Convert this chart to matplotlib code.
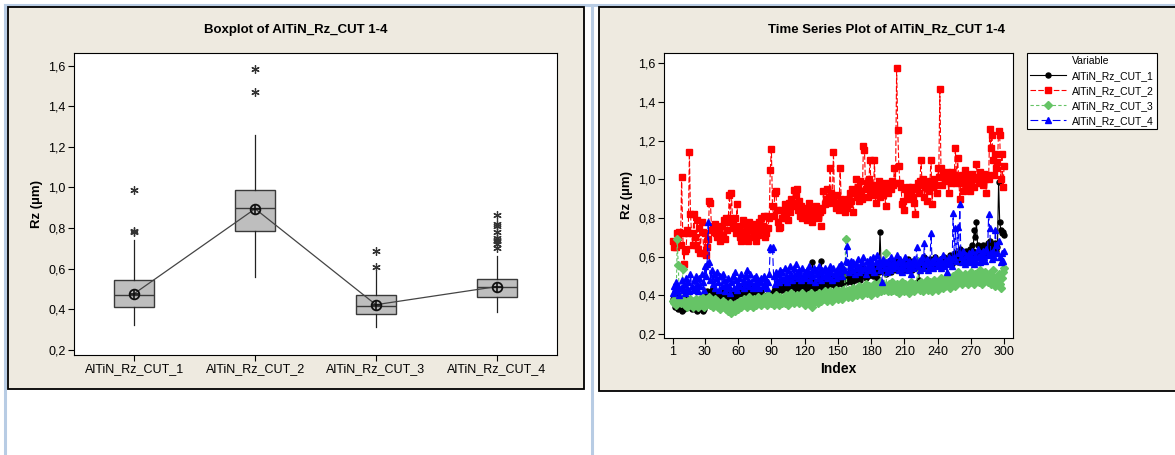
import matplotlib
matplotlib.use('Agg')
import matplotlib.pyplot as plt
from matplotlib.patches import Rectangle
from matplotlib.lines import Line2D
from matplotlib.ticker import FuncFormatter

plt.rcParams['font.family'] = ['Liberation Sans', 'DejaVu Sans']

# ---- boxplot data ----
box_labels = ['AlTiN_Rz_CUT_1', 'AlTiN_Rz_CUT_2', 'AlTiN_Rz_CUT_3', 'AlTiN_Rz_CUT_4']
box_q1 = [0.414, 0.787, 0.378, 0.462]
box_med = [0.471, 0.899, 0.419, 0.511]
box_q3 = [0.546, 0.986, 0.470, 0.550]
box_wlo = [0.323, 0.558, 0.312, 0.386]
box_whi = [0.740, 1.258, 0.583, 0.661]
box_mean = [0.478, 0.895, 0.423, 0.512]
box_fliers = [
    [0.986, 0.784, 0.779],
    [1.582, 1.472],
    [0.689, 0.608],
    [0.863, 0.820, 0.812, 0.780, 0.752, 0.743, 0.735, 0.722, 0.700],
]

# ---- time series data (index 1..300) ----
cut_1 = [
    0.38, 0.36, 0.34, 0.40, 0.35, 0.33, 0.37, 0.34, 0.32, 0.36, 0.33, 0.39, 0.35, 0.38, 0.34, 0.36, 0.37, 0.33, 0.35, 0.34,
    0.33, 0.36, 0.32, 0.35, 0.33, 0.37, 0.34, 0.32, 0.33, 0.36, 0.40, 0.42, 0.39, 0.41, 0.40, 0.43, 0.39, 0.42, 0.38, 0.41,
    0.39, 0.38, 0.41, 0.37, 0.40, 0.39, 0.42, 0.38, 0.40, 0.37, 0.39, 0.41, 0.43, 0.38, 0.40, 0.42, 0.39, 0.43, 0.41, 0.40,
    0.42, 0.44, 0.41, 0.43, 0.40, 0.42, 0.44, 0.41, 0.43, 0.45, 0.42, 0.40, 0.43, 0.41, 0.44, 0.42, 0.40, 0.43, 0.41, 0.39,
    0.42, 0.40, 0.38, 0.39, 0.37, 0.39, 0.38, 0.41, 0.38, 0.40, 0.36, 0.42, 0.44, 0.41, 0.43, 0.45, 0.42, 0.44, 0.46, 0.43,
    0.45, 0.47, 0.44, 0.46, 0.43, 0.47, 0.45, 0.48, 0.44, 0.46, 0.49, 0.45, 0.43, 0.47, 0.44, 0.46, 0.45, 0.48, 0.44, 0.46,
    0.47, 0.43, 0.46, 0.44, 0.48, 0.45, 0.57, 0.46, 0.43, 0.47, 0.44, 0.46, 0.42, 0.45, 0.58, 0.47, 0.44, 0.48, 0.45, 0.47,
    0.49, 0.45, 0.48, 0.46, 0.50, 0.47, 0.45, 0.49, 0.46, 0.48, 0.50, 0.47, 0.49, 0.46, 0.48, 0.51, 0.49, 0.47, 0.50, 0.48,
    0.52, 0.49, 0.47, 0.51, 0.48, 0.50, 0.53, 0.49, 0.51, 0.48, 0.52, 0.50, 0.54, 0.51, 0.49, 0.53, 0.50, 0.52, 0.55, 0.51,
    0.53, 0.50, 0.54, 0.52, 0.49, 0.55, 0.52, 0.726, 0.56, 0.53, 0.57, 0.54, 0.51, 0.56, 0.53, 0.55, 0.58, 0.52, 0.56, 0.54,
    0.57, 0.53, 0.55, 0.59, 0.54, 0.56, 0.52, 0.57, 0.55, 0.53, 0.58, 0.56, 0.59, 0.54, 0.57, 0.55, 0.53, 0.58, 0.56, 0.54,
    0.57, 0.55, 0.48, 0.56, 0.58, 0.54, 0.57, 0.60, 0.55, 0.58, 0.56, 0.54, 0.59, 0.57, 0.55, 0.58, 0.56, 0.60, 0.57, 0.55,
    0.58, 0.56, 0.59, 0.57, 0.55, 0.60, 0.58, 0.56, 0.59, 0.57, 0.61, 0.58, 0.56, 0.60, 0.58, 0.62, 0.59, 0.57, 0.61, 0.64,
    0.60, 0.62, 0.58, 0.61, 0.59, 0.63, 0.60, 0.62, 0.64, 0.61, 0.66, 0.63, 0.74, 0.70, 0.78, 0.66, 0.62, 0.65, 0.61, 0.64,
    0.66, 0.62, 0.65, 0.63, 0.67, 0.64, 0.68, 0.65, 0.62, 0.66, 0.64, 0.67, 0.63, 0.65, 0.988, 0.78, 0.74, 0.72, 0.73, 0.71,
]
cut_2 = [
    0.68, 0.65, 0.67, 0.65, 0.72, 0.70, 0.73, 0.66, 1.01, 0.72, 0.56, 0.63, 0.64, 0.74, 0.72, 1.14, 0.82, 0.72, 0.66, 0.82,
    0.70, 0.66, 0.79, 0.64, 0.75, 0.62, 0.78, 0.73, 0.62, 0.72, 0.61, 0.65, 0.69, 0.89, 0.88, 0.74, 0.76, 0.73, 0.77, 0.72,
    0.70, 0.74, 0.73, 0.68, 0.76, 0.71, 0.79, 0.69, 0.80, 0.74, 0.78, 0.92, 0.80, 0.93, 0.77, 0.75, 0.80, 0.72, 0.87, 0.74,
    0.76, 0.70, 0.68, 0.79, 0.73, 0.77, 0.71, 0.75, 0.68, 0.78, 0.74, 0.76, 0.70, 0.72, 0.77, 0.68, 0.75, 0.71, 0.78, 0.74,
    0.80, 0.76, 0.81, 0.70, 0.72, 0.81, 0.75, 0.80, 1.05, 1.155, 0.86, 0.81, 0.93, 0.94, 0.84, 0.78, 0.75, 0.755, 0.84, 0.80,
    0.82, 0.87, 0.80, 0.85, 0.79, 0.88, 0.83, 0.90, 0.86, 0.945, 0.88, 0.92, 0.95, 0.84, 0.89, 0.81, 0.86, 0.80, 0.83, 0.82,
    0.85, 0.79, 0.84, 0.88, 0.80, 0.83, 0.78, 0.84, 0.81, 0.86, 0.82, 0.80, 0.85, 0.83, 0.76, 0.84, 0.94, 0.87, 0.90, 0.95,
    0.88, 0.91, 1.06, 0.93, 0.90, 1.14, 0.88, 0.85, 0.92, 0.87, 0.84, 1.06, 0.90, 0.86, 0.88, 0.83, 0.86, 0.85, 0.90, 0.87,
    0.93, 0.89, 0.95, 0.83, 0.93, 1.00, 0.91, 0.96, 0.89, 0.99, 0.93, 0.90, 1.17, 1.15, 0.95, 0.98, 0.91, 1.00, 1.10, 0.94,
    0.97, 0.92, 1.10, 0.88, 0.96, 0.93, 0.99, 0.91, 0.97, 0.95, 0.92, 0.98, 0.86, 0.96, 0.93, 0.97, 0.98, 0.95, 0.99, 0.97,
    1.06, 0.98, 1.578, 1.255, 1.07, 0.98, 0.96, 0.87, 0.89, 0.84, 0.95, 0.92, 0.96, 0.90, 0.94, 0.93, 0.96, 0.91, 0.88, 0.82,
    0.95, 0.98, 0.93, 0.99, 1.10, 0.97, 1.00, 0.91, 0.96, 0.89, 0.97, 0.94, 0.99, 1.10, 0.87, 0.96, 1.00, 0.97, 0.93, 1.06,
    1.01, 1.467, 1.06, 0.97, 1.03, 1.01, 0.99, 1.04, 1.02, 0.93, 1.01, 0.98, 1.04, 0.99, 1.02, 1.16, 0.98, 1.11, 1.01, 0.90,
    0.98, 1.02, 0.94, 1.00, 1.05, 0.95, 0.97, 1.02, 0.94, 0.99, 1.03, 1.00, 0.96, 1.01, 1.08, 1.00, 0.98, 1.04, 0.99, 1.01,
    0.97, 1.03, 1.00, 0.93, 1.02, 1.00, 1.26, 1.16, 1.23, 1.10, 1.02, 1.13, 1.06, 1.09, 1.25, 1.23, 1.00, 1.13, 0.96, 1.07,
]
cut_3 = [
    0.37, 0.36, 0.38, 0.35, 0.69, 0.555, 0.37, 0.36, 0.38, 0.534, 0.37, 0.35, 0.36, 0.34, 0.37, 0.35, 0.38, 0.36, 0.34, 0.37,
    0.35, 0.38, 0.36, 0.34, 0.37, 0.35, 0.39, 0.36, 0.34, 0.37, 0.35, 0.38, 0.36, 0.39, 0.35, 0.37, 0.34, 0.36, 0.38, 0.35,
    0.37, 0.34, 0.36, 0.33, 0.35, 0.37, 0.34, 0.36, 0.33, 0.35, 0.32, 0.34, 0.36, 0.31, 0.33, 0.35, 0.32, 0.34, 0.36, 0.33,
    0.35, 0.37, 0.34, 0.36, 0.38, 0.35, 0.37, 0.34, 0.36, 0.39, 0.35, 0.37, 0.34, 0.38, 0.36, 0.35, 0.37, 0.39, 0.36, 0.38,
    0.35, 0.37, 0.39, 0.36, 0.38, 0.35, 0.40, 0.37, 0.39, 0.36, 0.38, 0.35, 0.37, 0.40, 0.36, 0.38, 0.35, 0.39, 0.37, 0.36,
    0.38, 0.36, 0.40, 0.37, 0.35, 0.39, 0.37, 0.41, 0.38, 0.36, 0.39, 0.37, 0.40, 0.38, 0.36, 0.39, 0.37, 0.41, 0.38, 0.35,
    0.39, 0.37, 0.40, 0.38, 0.36, 0.41, 0.34, 0.39, 0.37, 0.40, 0.38, 0.36, 0.41, 0.39, 0.37, 0.40, 0.38, 0.42, 0.39, 0.37,
    0.40, 0.38, 0.42, 0.39, 0.37, 0.41, 0.39, 0.43, 0.40, 0.38, 0.42, 0.39, 0.41, 0.38, 0.43, 0.40, 0.69, 0.42, 0.39, 0.43,
    0.40, 0.42, 0.39, 0.44, 0.41, 0.43, 0.40, 0.42, 0.45, 0.41, 0.43, 0.40, 0.44, 0.42, 0.46, 0.41, 0.43, 0.45, 0.42, 0.40,
    0.44, 0.42, 0.46, 0.43, 0.41, 0.45, 0.43, 0.47, 0.42, 0.44, 0.46, 0.43, 0.617, 0.45, 0.42, 0.46, 0.44, 0.42, 0.47, 0.43,
    0.45, 0.42, 0.46, 0.44, 0.41, 0.45, 0.43, 0.47, 0.44, 0.42, 0.46, 0.43, 0.45, 0.41, 0.44, 0.47, 0.43, 0.45, 0.42, 0.46,
    0.44, 0.58, 0.45, 0.43, 0.47, 0.44, 0.42, 0.46, 0.44, 0.48, 0.43, 0.45, 0.47, 0.44, 0.42, 0.46, 0.48, 0.44, 0.46, 0.43,
    0.47, 0.45, 0.49, 0.46, 0.44, 0.48, 0.45, 0.47, 0.50, 0.46, 0.44, 0.48, 0.46, 0.50, 0.47, 0.45, 0.49, 0.52, 0.47, 0.50,
    0.48, 0.46, 0.50, 0.47, 0.51, 0.48, 0.46, 0.50, 0.48, 0.52, 0.47, 0.49, 0.46, 0.51, 0.48, 0.50, 0.47, 0.53, 0.49, 0.46,
    0.50, 0.48, 0.52, 0.49, 0.47, 0.51, 0.48, 0.46, 0.50, 0.53, 0.48, 0.45, 0.49, 0.47, 0.51, 0.46, 0.44, 0.49, 0.52, 0.54,
]
cut_4 = [
    0.41, 0.45, 0.43, 0.47, 0.42, 0.45, 0.40, 0.44, 0.48, 0.43, 0.46, 0.41, 0.49, 0.44, 0.47, 0.42, 0.51, 0.45, 0.43, 0.48,
    0.44, 0.50, 0.46, 0.42, 0.49, 0.45, 0.51, 0.47, 0.43, 0.55, 0.50, 0.56, 0.78, 0.57, 0.48, 0.53, 0.46, 0.51, 0.44, 0.49,
    0.52, 0.47, 0.43, 0.50, 0.45, 0.51, 0.48, 0.42, 0.46, 0.44, 0.49, 0.45, 0.41, 0.47, 0.50, 0.44, 0.52, 0.48, 0.43, 0.46,
    0.49, 0.45, 0.51, 0.47, 0.44, 0.50, 0.46, 0.53, 0.48, 0.45, 0.51, 0.47, 0.44, 0.49, 0.46, 0.50, 0.45, 0.48, 0.44, 0.47,
    0.49, 0.45, 0.50, 0.46, 0.48, 0.44, 0.47, 0.51, 0.65, 0.64, 0.65, 0.50, 0.46, 0.52, 0.48, 0.51, 0.47, 0.53, 0.49, 0.52,
    0.48, 0.54, 0.50, 0.47, 0.53, 0.49, 0.55, 0.51, 0.48, 0.54, 0.50, 0.56, 0.52, 0.49, 0.53, 0.51, 0.48, 0.54, 0.50, 0.52,
    0.49, 0.53, 0.51, 0.55, 0.48, 0.52, 0.50, 0.54, 0.47, 0.53, 0.51, 0.49, 0.55, 0.52, 0.48, 0.53, 0.50, 0.54, 0.51, 0.49,
    0.53, 0.50, 0.55, 0.52, 0.48, 0.54, 0.51, 0.49, 0.53, 0.50, 0.55, 0.52, 0.56, 0.50, 0.54, 0.53, 0.58, 0.655, 0.57, 0.52,
    0.55, 0.58, 0.53, 0.57, 0.51, 0.56, 0.54, 0.59, 0.52, 0.55, 0.53, 0.57, 0.60, 0.54, 0.51, 0.58, 0.55, 0.53, 0.59, 0.56,
    0.54, 0.60, 0.52, 0.57, 0.61, 0.55, 0.58, 0.53, 0.56, 0.467, 0.59, 0.54, 0.57, 0.52, 0.58, 0.55, 0.53, 0.60, 0.56, 0.54,
    0.58, 0.55, 0.61, 0.57, 0.53, 0.59, 0.55, 0.52, 0.57, 0.54, 0.60, 0.56, 0.53, 0.58, 0.55, 0.51, 0.57, 0.54, 0.59, 0.56,
    0.648, 0.55, 0.58, 0.53, 0.57, 0.60, 0.54, 0.67, 0.56, 0.59, 0.53, 0.57, 0.55, 0.724, 0.58, 0.54, 0.57, 0.60, 0.55, 0.58,
    0.56, 0.59, 0.54, 0.57, 0.61, 0.55, 0.58, 0.52, 0.57, 0.60, 0.56, 0.59, 0.55, 0.824, 0.60, 0.75, 0.58, 0.755, 0.62, 0.872,
    0.60, 0.57, 0.63, 0.59, 0.56, 0.61, 0.58, 0.62, 0.57, 0.60, 0.63, 0.59, 0.56, 0.61, 0.58, 0.64, 0.60, 0.57, 0.62, 0.59,
    0.63, 0.60, 0.58, 0.64, 0.61, 0.82, 0.75, 0.62, 0.59, 0.63, 0.60, 0.74, 0.66, 0.62, 0.68, 0.60, 0.57, 0.62, 0.58, 0.63,
]
index = list(range(1, len(cut_1) + 1))
x_ticks = [1, 30, 60, 90, 120, 150, 180, 210, 240, 270, 300]
y_ticks = [0.2, 0.4, 0.6, 0.8, 1.0, 1.2, 1.4, 1.6]

W, H = 1175, 455
PANEL = '#EEEAE0'
EDGE_BLUE = '#B8CCE4'


def fx(px):
    return px / W


def fy(py):
    return 1 - py / H


comma_fmt = FuncFormatter(lambda v, p: f"{v:.1f}".replace('.', ','))

fig = plt.figure(figsize=(W / 100, H / 100), dpi=100, facecolor='white')

# screenshot frame lines (drawn behind the axes)
fig.add_artist(Line2D([fx(5), 1], [fy(5), fy(5)], color=EDGE_BLUE, lw=2.2, zorder=-3))
fig.add_artist(Line2D([fx(5), fx(5)], [fy(5), fy(454)], color=EDGE_BLUE, lw=2.2, zorder=-3))
fig.add_artist(Line2D([fx(592), fx(592)], [fy(5), fy(455)], color=EDGE_BLUE, lw=2.2, zorder=-3))

# beige panels
fig.add_artist(Rectangle((fx(8), fy(389)), fx(584 - 8), (389 - 7) / H, facecolor=PANEL,
                         edgecolor='black', lw=1.3, transform=fig.transFigure, zorder=-2))
fig.add_artist(Rectangle((fx(599), fy(391)), fx(600), (391 - 7) / H, facecolor=PANEL,
                         edgecolor='black', lw=1.3, transform=fig.transFigure, zorder=-2))

# ----------------------------------------------------
# 1. Boxplot
# ----------------------------------------------------
ax1 = fig.add_axes([fx(74), fy(354.7), fx(557 - 74), (354.7 - 52.7) / H])
stats = []
for i in range(len(box_labels)):
    stats.append(dict(med=box_med[i], q1=box_q1[i], q3=box_q3[i], whislo=box_wlo[i],
                      whishi=box_whi[i], fliers=box_fliers[i], label=box_labels[i]))
positions = [1, 2, 3, 4]
ax1.bxp(stats, positions=positions, widths=0.33, patch_artist=True, showcaps=False,
        boxprops=dict(facecolor='#BEBEBE', edgecolor='#3a3a3a', lw=1.0),
        medianprops=dict(color='#3a3a3a', lw=1.0),
        whiskerprops=dict(color='#222222', lw=0.9),
        flierprops=dict(marker=(6, 2, 0), markersize=6, markeredgecolor='#333333',
                        markeredgewidth=0.9, linestyle='none'))
ax1.plot(positions, box_mean, color='#444444', lw=0.9, zorder=4)
ax1.plot(positions, box_mean, linestyle='none', marker='o', ms=7, mfc='none',
         mec='#111111', mew=1.3, zorder=5)
ax1.plot(positions, box_mean, linestyle='none', marker='+', ms=7, mec='#111111',
         mew=1.2, zorder=5)
ax1.set_xlim(0.5, 4.5)
ax1.set_ylim(0.177, 1.663)
ax1.set_yticks(y_ticks)
ax1.yaxis.set_major_formatter(comma_fmt)
ax1.set_xticks(positions)
ax1.set_xticklabels(box_labels)
ax1.set_ylabel('Rz (µm)', fontsize=9.5, fontweight='bold')
ax1.tick_params(labelsize=9, length=4, width=0.8, pad=2)
fig.text(fx(296), fy(30), 'Boxplot of AlTiN_Rz_CUT 1-4', ha='center', va='center',
         fontsize=9.5, fontweight='bold')

# ----------------------------------------------------
# 2. Time series plot
# ----------------------------------------------------
ax2 = fig.add_axes([fx(664), fy(337.7), fx(1013 - 664), (337.7 - 52.7) / H])
l1, = ax2.plot(index, cut_1, color='black', lw=0.8, marker='o', ms=3.6,
               label='AlTiN_Rz_CUT_1')
l2, = ax2.plot(index, cut_2, color='#FF0000', lw=0.8, linestyle=(0, (5, 2)), marker='s', ms=3.8,
               label='AlTiN_Rz_CUT_2')
l3, = ax2.plot(index, cut_3, color='#66C466', lw=0.8, linestyle=(0, (3, 2)), marker='D', ms=3.6,
               label='AlTiN_Rz_CUT_3')
l4, = ax2.plot(index, cut_4, color='#0000FF', lw=0.8, linestyle=(0, (7, 3)), marker='^', ms=4.8,
               label='AlTiN_Rz_CUT_4')
ax2.set_xlim(-6.9, 308)
ax2.set_ylim(0.181, 1.655)
ax2.set_xticks(x_ticks)
ax2.set_yticks(y_ticks)
ax2.yaxis.set_major_formatter(comma_fmt)
ax2.set_xlabel('Index', fontsize=10, fontweight='bold', labelpad=3)
ax2.set_ylabel('Rz (µm)', fontsize=9.5, fontweight='bold')
ax2.tick_params(labelsize=9, length=4, width=0.8, pad=2)
fig.text(fx(886), fy(30), 'Time Series Plot of AlTiN_Rz_CUT 1-4', ha='center', va='center',
         fontsize=9.5, fontweight='bold')

title_h = Line2D([], [], linestyle='none')
leg = fig.legend([title_h, l1, l2, l3, l4],
                 ['Variable', 'AlTiN_Rz_CUT_1', 'AlTiN_Rz_CUT_2', 'AlTiN_Rz_CUT_3', 'AlTiN_Rz_CUT_4'],
                 loc='upper left', bbox_to_anchor=(fx(1027), fy(52.7)), borderaxespad=0,
                 fontsize=7.5, numpoints=1, handlelength=3.4, handletextpad=0.6,
                 labelspacing=0.48, borderpad=0.3, fancybox=False, framealpha=1,
                 edgecolor='black')
leg.get_frame().set_linewidth(0.8)

fig.savefig('out.png', dpi=100, facecolor='white')
